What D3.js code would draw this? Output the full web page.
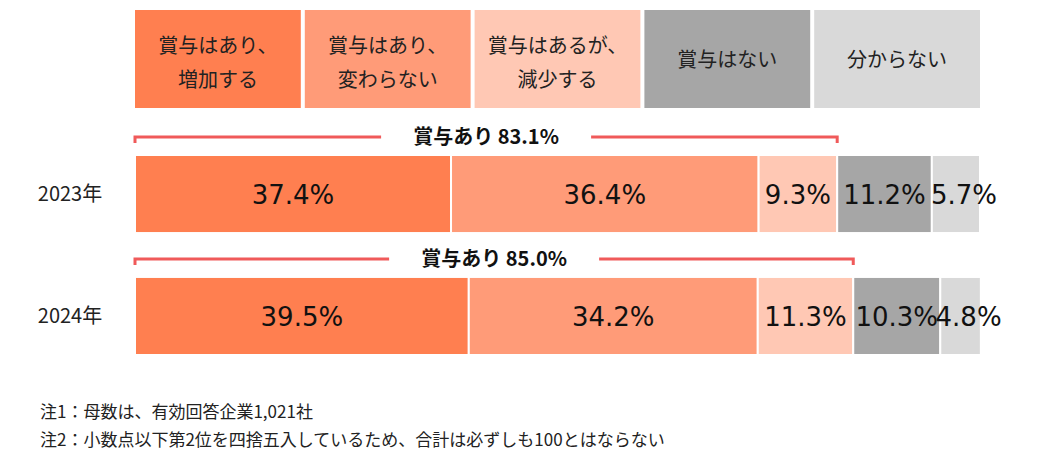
<!DOCTYPE html>
<html><head><meta charset="utf-8">
<script src="https://cdn.jsdelivr.net/npm/d3@7"></script>
<style>body{margin:0;background:#fff;font-family:"Noto Sans CJK JP","Noto Sans",sans-serif;}</style>
</head><body><div id="chart"></div>
<script>
var categories = ['賞与はあり、\n増加する', '賞与はあり、\n変わらない', '賞与はあるが、\n減少する', '賞与はない', '分からない'];
var colors = ['#FF7F50', '#FF9B78', '#FFC8B4', '#A6A6A6', '#D9D9D9'];
var years = ['2023年', '2024年'];
var values2023 = [37.4, 36.4, 9.3, 11.2, 5.7];
var values2024 = [39.5, 34.2, 11.3, 10.3, 4.8];
var bonusTotals = [83.1, 85.0];
var notes = ['注1：母数は、有効回答企業1,021社', '注2：小数点以下第2位を四捨五入しているため、合計は必ずしも100とはならない'];

var width = 1041, height = 463;
var svg = d3.select('#chart').append('svg').attr('width', width).attr('height', height);

var x = d3.scaleLinear().domain([0, 100]).range([135, 980]);
var y = d3.scaleBand().domain(years).range([155, 355]).paddingInner(0.36).paddingOuter(0);

// legend boxes
var legW = (x(100) - x(0) + 4) / categories.length;
var leg = svg.selectAll('g.leg').data(categories).enter().append('g')
    .attr('transform', function(d, i) { return 'translate(' + (x(0) + i * legW) + ',10)'; });
leg.append('rect').attr('width', legW - 4).attr('height', 98)
    .attr('fill', function(d, i) { return colors[i]; });
leg.each(function(d) {
    var lines = d.split('\n');
    var t = d3.select(this).append('text').attr('text-anchor', 'middle')
        .attr('font-size', 20).attr('fill', '#222');
    lines.forEach(function(l, j) {
        t.append('tspan').attr('x', (legW - 4) / 2)
            .attr('y', lines.length === 1 ? 57 : 43 + j * 34).text(l);
    });
});

var data = [values2023, values2024];
data.forEach(function(vals, r) {
    var yr = years[r];
    var acc = 0;
    var segs = vals.map(function(v, i) { var s = {v: v, x0: acc, i: i}; acc += v; return s; });
    var g = svg.append('g');
    g.selectAll('rect').data(segs).enter().append('rect')
        .attr('x', function(s) { return x(s.x0); })
        .attr('width', function(s) { return x(s.x0 + s.v) - x(s.x0); })
        .attr('y', y(yr)).attr('height', y.bandwidth())
        .attr('fill', function(s) { return colors[s.i]; })
        .attr('stroke', '#fff').attr('stroke-width', 2);
    g.selectAll('text').data(segs).enter().append('text')
        .attr('x', function(s) { return x(s.x0 + s.v / 2) + (s.i === 4 ? 8 : 0); })
        .attr('y', y(yr) + y.bandwidth() / 2 + 10)
        .attr('text-anchor', 'middle').attr('font-size', 26)
        .attr('font-family', 'DejaVu Sans, sans-serif').attr('fill', '#111')
        .text(function(s) { return s.v.toFixed(1) + '%'; });
    svg.append('text').attr('x', 70).attr('y', y(yr) + y.bandwidth() / 2 + 7)
        .attr('text-anchor', 'middle').attr('font-size', 20).attr('fill', '#222').text(yr);

    // bracket
    var by = y(yr) - 18, x1 = x(0), x2 = x(vals[0] + vals[1] + vals[2]);
    svg.append('path').attr('d', 'M' + x1 + ',' + (by + 6) + 'V' + by + 'H' + x2 + 'V' + (by + 6))
        .attr('fill', 'none').attr('stroke', '#F05A5A').attr('stroke-width', 3);
    var lbl = '賞与あり  ' + bonusTotals[r].toFixed(1) + '%';
    var cx = (x1 + x2) / 2;
    svg.append('rect').attr('x', cx - 105).attr('y', by - 12).attr('width', 210).attr('height', 24).attr('fill', '#fff');
    svg.append('text').attr('x', cx).attr('y', by + 7).attr('text-anchor', 'middle')
        .attr('font-size', 20).attr('font-weight', 'bold').attr('fill', '#111').text(lbl);
});

svg.selectAll('text.note').data(notes).enter().append('text').attr('class', 'note')
    .attr('x', 40).attr('y', function(d, i) { return 418 + i * 28; })
    .attr('font-size', 17).attr('fill', '#222').text(function(d) { return d; });
</script></body></html>
